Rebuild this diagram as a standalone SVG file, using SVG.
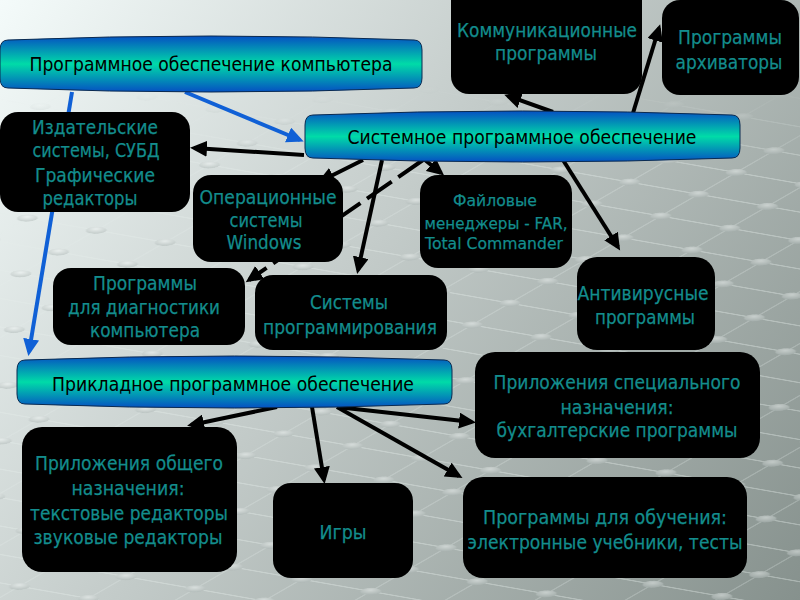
<svg xmlns="http://www.w3.org/2000/svg" width="800" height="600" viewBox="0 0 800 600">
<defs>
<linearGradient id="bg" x1="0" y1="0" x2="800" y2="600" gradientUnits="userSpaceOnUse">
<stop offset="0" stop-color="#f4fbfa"/>
<stop offset="0.45" stop-color="#c3cbc9"/>
<stop offset="1" stop-color="#86918d"/>
</linearGradient>
<linearGradient id="ban" x1="0" y1="0" x2="0" y2="1">
<stop offset="0" stop-color="#0550c2"/>
<stop offset="0.5" stop-color="#00dba8"/>
<stop offset="1" stop-color="#0550c2"/>
</linearGradient>
<radialGradient id="dot" cx="0.4" cy="0.35" r="0.7">
<stop offset="0" stop-color="#f4f8f7"/>
<stop offset="1" stop-color="#a9b3b1"/>
</radialGradient>
<pattern id="grid" width="70" height="28" patternUnits="userSpaceOnUse" patternTransform="rotate(10) skewX(-50)">
<line x1="0" y1="14" x2="70" y2="14" stroke="#e4ecea" stroke-width="1"/>
<line x1="35" y1="0" x2="35" y2="28" stroke="#e4ecea" stroke-width="1"/>
<ellipse cx="35" cy="14" rx="9" ry="4" fill="url(#dot)"/>
</pattern>
<linearGradient id="fadeg" x1="0" y1="0" x2="0" y2="600" gradientUnits="userSpaceOnUse">
<stop offset="0.14" stop-color="#000"/>
<stop offset="0.28" stop-color="#fff"/>
</linearGradient>
<mask id="fade"><rect width="800" height="600" fill="url(#fadeg)"/></mask>
<marker id="ah" markerUnits="userSpaceOnUse" markerWidth="18" markerHeight="16" refX="13" refY="8" orient="auto">
<path d="M0,0 L17,8 L0,16 Z" fill="#000"/>
</marker>
<marker id="ahb" markerUnits="userSpaceOnUse" markerWidth="18" markerHeight="16" refX="13" refY="8" orient="auto">
<path d="M0,0 L17,8 L0,16 Z" fill="#1060d6"/>
</marker>
<style>
.ban{fill:url(#ban);stroke:#0a2a50;stroke-width:1}
.box{fill:#000}
.bt{font-family:"DejaVu Sans","Noto Sans",sans-serif;font-size:19px;fill:#000;text-anchor:middle}
.t{font-family:"DejaVu Sans","Noto Sans",sans-serif;font-size:19px;fill:#138d8d;stroke:#138d8d;stroke-width:0.25;text-anchor:middle}
.ts{font-family:"DejaVu Sans","Noto Sans",sans-serif;font-size:16.5px;fill:#138d8d;stroke:#138d8d;stroke-width:0.25;text-anchor:middle}
.c{stroke:#000;stroke-width:4;fill:none;marker-end:url(#ah)}
.cb{stroke:#1060d6;stroke-width:4;fill:none;marker-end:url(#ahb)}
.cd{stroke:#000;stroke-width:4;fill:none;stroke-dasharray:30 8;marker-end:url(#ah)}
</style>
</defs>
<rect width="800" height="600" fill="url(#bg)"/>
<rect width="800" height="600" fill="url(#grid)" opacity="0.5" mask="url(#fade)"/>
<g id="connectors">
<line class="cb" x1="185" y1="92" x2="300" y2="140"/>
<line class="cb" x1="72" y1="92" x2="29" y2="352"/>
<line class="c" x1="304" y1="155" x2="194" y2="148"/>
<line class="c" x1="553" y1="112" x2="508" y2="96"/>
<line class="c" x1="633" y1="113" x2="659" y2="28"/>
<line class="c" x1="363" y1="160" x2="321" y2="181"/>
<line class="c" x1="382" y1="160" x2="358" y2="270"/>
<line class="c" x1="425" y1="160" x2="441" y2="173"/>
<line class="cd" x1="423" y1="160" x2="249" y2="280"/>
<line class="c" x1="563" y1="160" x2="618" y2="247"/>
<line class="c" x1="277" y1="407" x2="191" y2="425"/>
<line class="c" x1="312" y1="407" x2="324" y2="480"/>
<line class="c" x1="337" y1="407" x2="472" y2="422"/>
<line class="c" x1="337" y1="407" x2="459" y2="476"/>
</g>
<g id="n-po">
<path class="ban" d="M8,40 Q211,32 414,40 Q422,40 422,50 L422,78 Q422,88 414,88 Q211,96 8,88 Q0,88 0,78 L0,50 Q0,40 8,40 Z"/>
<text class="bt" x="211" y="71" textLength="363" lengthAdjust="spacingAndGlyphs">Программное обеспечение компьютера</text>
</g>
<g id="n-sys">
<path class="ban" d="M313,115 Q522.5,107 732,115 Q740,115 740,125 L740,148 Q740,158 732,158 Q522.5,166 313,158 Q305,158 305,148 L305,125 Q305,115 313,115 Z"/>
<text class="bt" x="522" y="144" textLength="349" lengthAdjust="spacingAndGlyphs">Системное программное обеспечение</text>
</g>
<g id="n-app">
<path class="ban" d="M25,360 Q234.5,352 444,360 Q452,360 452,370 L452,394 Q452,404 444,404 Q234.5,412 25,404 Q17,404 17,394 L17,370 Q17,360 25,360 Z"/>
<text class="bt" x="233" y="391" textLength="362" lengthAdjust="spacingAndGlyphs">Прикладное программное обеспечение</text>
</g>
<g id="n-comm">
<rect class="box" x="451" y="-20" width="191" height="114" rx="18"/>
<text class="t" x="547" y="37" textLength="180" lengthAdjust="spacingAndGlyphs">Коммуникационные</text>
<text class="t" x="546" y="60" textLength="102" lengthAdjust="spacingAndGlyphs">программы</text>
</g>
<g id="n-arch">
<rect class="box" x="662" y="0" width="137" height="95" rx="18"/>
<text class="t" x="730" y="44" textLength="104" lengthAdjust="spacingAndGlyphs">Программы</text>
<text class="t" x="729" y="69" textLength="107" lengthAdjust="spacingAndGlyphs">архиваторы</text>
</g>
<g id="n-izd">
<rect class="box" x="0" y="112" width="190" height="100" rx="18"/>
<text class="t" x="95" y="134" textLength="126" lengthAdjust="spacingAndGlyphs">Издательские</text>
<text class="t" x="96" y="157" textLength="127" lengthAdjust="spacingAndGlyphs">системы, СУБД</text>
<text class="t" x="95" y="182" textLength="120" lengthAdjust="spacingAndGlyphs">Графические</text>
<text class="t" x="90" y="205" textLength="95" lengthAdjust="spacingAndGlyphs">редакторы</text>
</g>
<g id="n-os">
<rect class="box" x="193" y="175" width="150" height="87" rx="18"/>
<text class="t" x="268" y="204" textLength="137" lengthAdjust="spacingAndGlyphs">Операционные</text>
<text class="t" x="266" y="227" textLength="73" lengthAdjust="spacingAndGlyphs">системы</text>
<text class="t" x="264" y="249" textLength="75" lengthAdjust="spacingAndGlyphs">Windows</text>
</g>
<g id="n-file">
<rect class="box" x="420" y="175" width="152" height="93" rx="18"/>
<text class="ts" x="495" y="206" textLength="84" lengthAdjust="spacingAndGlyphs">Файловые</text>
<text class="ts" x="496" y="229" textLength="143" lengthAdjust="spacingAndGlyphs">менеджеры - FAR,</text>
<text class="ts" x="494" y="249" textLength="138" lengthAdjust="spacingAndGlyphs">Total Commander</text>
</g>
<g id="n-diag">
<rect class="box" x="53" y="268" width="192" height="77" rx="18"/>
<text class="t" x="145" y="290" textLength="104" lengthAdjust="spacingAndGlyphs">Программы</text>
<text class="t" x="144" y="314" textLength="152" lengthAdjust="spacingAndGlyphs">для диагностики</text>
<text class="t" x="145" y="337" textLength="110" lengthAdjust="spacingAndGlyphs">компьютера</text>
</g>
<g id="n-prog">
<rect class="box" x="255" y="275" width="192" height="75" rx="18"/>
<text class="t" x="349" y="309" textLength="78" lengthAdjust="spacingAndGlyphs">Системы</text>
<text class="t" x="350" y="334" textLength="174" lengthAdjust="spacingAndGlyphs">программирования</text>
</g>
<g id="n-anti">
<rect class="box" x="577" y="257" width="138" height="93" rx="20"/>
<text class="t" x="643" y="300" textLength="131" lengthAdjust="spacingAndGlyphs">Антивирусные</text>
<text class="t" x="645" y="324" textLength="100" lengthAdjust="spacingAndGlyphs">программы</text>
</g>
<g id="n-spec">
<rect class="box" x="475" y="352" width="285" height="106" rx="20"/>
<text class="t" x="617" y="389" textLength="247" lengthAdjust="spacingAndGlyphs">Приложения специального</text>
<text class="t" x="617" y="414" textLength="113" lengthAdjust="spacingAndGlyphs">назначения:</text>
<text class="t" x="617" y="437" textLength="241" lengthAdjust="spacingAndGlyphs">бухгалтерские программы</text>
</g>
<g id="n-gen">
<rect class="box" x="22" y="427" width="215" height="145" rx="20"/>
<text class="t" x="129" y="470" textLength="188" lengthAdjust="spacingAndGlyphs">Приложения общего</text>
<text class="t" x="128" y="495" textLength="113" lengthAdjust="spacingAndGlyphs">назначения:</text>
<text class="t" x="129" y="520" textLength="198" lengthAdjust="spacingAndGlyphs">текстовые редакторы</text>
<text class="t" x="128" y="544" textLength="189" lengthAdjust="spacingAndGlyphs">звуковые редакторы</text>
</g>
<g id="n-games">
<rect class="box" x="273" y="483" width="140" height="95" rx="18"/>
<text class="t" x="343" y="539" textLength="47" lengthAdjust="spacingAndGlyphs">Игры</text>
</g>
<g id="n-edu">
<rect class="box" x="463" y="477" width="284" height="101" rx="20"/>
<text class="t" x="605" y="524" textLength="244" lengthAdjust="spacingAndGlyphs">Программы для обучения:</text>
<text class="t" x="605" y="549" textLength="275" lengthAdjust="spacingAndGlyphs">электронные учебники, тесты</text>
</g>
</svg>
